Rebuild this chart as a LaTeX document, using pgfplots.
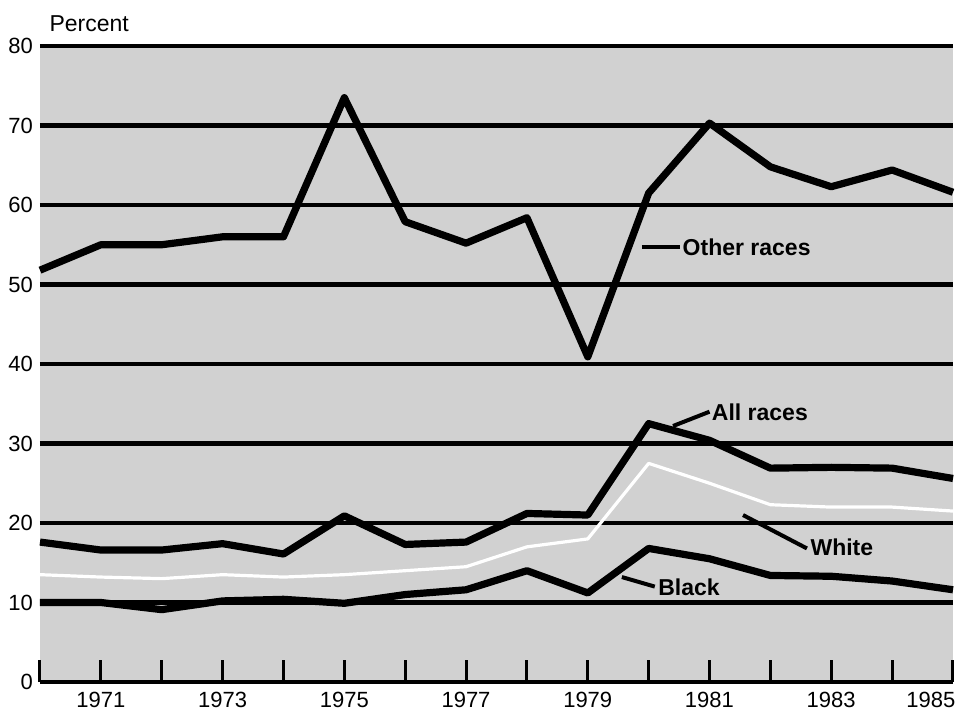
\documentclass[border=0pt]{standalone}
\usepackage{fontspec}
\setmainfont{Liberation Sans}
\usepackage{pgfplots}
\pgfplotsset{compat=1.18}
\begin{document}
\begin{tikzpicture}
\begin{axis}[
  at={(0,0)}, anchor=south west,
  scale only axis, width=456.5pt, height=318pt,
  xmin=1970, xmax=1985, ymin=0, ymax=80,
  clip=false,
  axis x line*=bottom, axis y line*=left,
  y axis line style={draw=none},
  x axis line style={line width=1.6pt, -},
  xtick={1970,...,1985},
  xticklabels={,1971,,1973,,1975,,1977,,1979,,1981,,1983,,\hspace*{-22pt}1985},
  xtick align=inside, ytick align=inside,
  major tick length=11pt,
  xtick style={line width=1.5pt, black},
  ytick={0,10,...,80},
  ytick style={draw=none},
  ymajorgrids, grid style={line width=2.2pt, black},
  axis background/.style={fill=black!18},
  tick label style={font=\fontsize{11}{13}\selectfont},
  xticklabel style={yshift=-1.5pt},
  /pgf/number format/assume math mode=true,
  /pgf/number format/1000 sep={},
]
% White
\addplot[line width=1.6pt, white, line join=round] coordinates {
(1970,13.5) (1971,13.2) (1972,13.0) (1973,13.5) (1974,13.2) (1975,13.5) (1976,14.0) (1977,14.5)
(1978,17.0) (1979,18.0) (1980,27.5) (1981,25.0) (1982,22.3) (1983,22.0) (1984,22.0) (1985,21.5)};
% Other races
\addplot[line width=3.6pt, black, line join=round] coordinates {
(1970,51.8) (1971,55.0) (1972,55.0) (1973,56.0) (1974,56.0) (1975,73.5) (1976,57.9) (1977,55.2)
(1978,58.4) (1979,40.9) (1980,61.5) (1981,70.3) (1982,64.8) (1983,62.3) (1984,64.4) (1985,61.6)};
% All races
\addplot[line width=3.6pt, black, line join=round] coordinates {
(1970,17.6) (1971,16.6) (1972,16.6) (1973,17.4) (1974,16.1) (1975,20.9) (1976,17.3) (1977,17.6)
(1978,21.2) (1979,21.0) (1980,32.5) (1981,30.4) (1982,26.9) (1983,27.0) (1984,26.9) (1985,25.6)};
% Black
\addplot[line width=3.6pt, black, line join=round] coordinates {
(1970,10.0) (1971,10.0) (1972,9.1) (1973,10.2) (1974,10.4) (1975,9.9) (1976,11.0) (1977,11.6)
(1978,14.0) (1979,11.2) (1980,16.8) (1981,15.5) (1982,13.4) (1983,13.3) (1984,12.7) (1985,11.6)};
% labels
\node[anchor=base west, inner sep=0pt, font=\fontsize{11.5}{13}\selectfont] at (axis cs:1970.15,81.8) {Percent};
\draw[line width=2pt] (axis cs:1979.89,54.7) -- (axis cs:1980.52,54.7);
\node[anchor=west, inner sep=1pt, font=\bfseries\fontsize{11.5}{13}\selectfont] at (axis cs:1980.52,54.7) {Other races};
\draw[line width=2pt] (axis cs:1980.4,32.2) -- (axis cs:1981.0,34.0);
\node[anchor=west, inner sep=1pt, font=\bfseries\fontsize{11.5}{13}\selectfont] at (axis cs:1981.0,33.9) {All races};
\draw[line width=2pt] (axis cs:1981.55,21.0) -- (axis cs:1982.6,16.8);
\node[anchor=west, inner sep=1pt, font=\bfseries\fontsize{11.5}{13}\selectfont] at (axis cs:1982.62,16.9) {White};
\draw[line width=2pt] (axis cs:1979.56,13.2) -- (axis cs:1980.1,12.0);
\node[anchor=west, inner sep=1pt, font=\bfseries\fontsize{11.5}{13}\selectfont] at (axis cs:1980.12,11.95) {Black};
\end{axis}
\pgfresetboundingbox
\path[use as bounding box] (-20pt,-17pt) rectangle (461pt,341pt);
\end{tikzpicture}
\end{document}
